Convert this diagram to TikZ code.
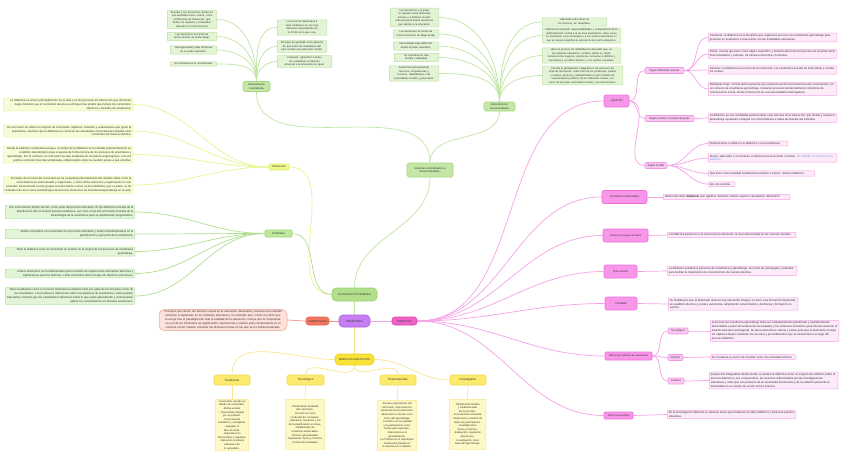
\documentclass[tikz,border=0pt]{standalone}
\usepackage{fontspec}
\setmainfont{Liberation Sans}
\usetikzlibrary{backgrounds}
\hyphenpenalty=10000
\exhyphenpenalty=10000
\definecolor{txt}{HTML}{333333}
\definecolor{gnf}{HTML}{E3F3D6}\definecolor{gnb}{HTML}{BDE3A1}\definecolor{gline}{HTML}{BFE5A3}
\definecolor{gmf}{HTML}{C5E6A6}\definecolor{gmb}{HTML}{A5D882}
\definecolor{cvf}{HTML}{B3DF8C}\definecolor{cvb}{HTML}{97D26F}
\definecolor{dff}{HTML}{EEF98A}\definecolor{dfb}{HTML}{DCEF5E}
\definecolor{dbf}{HTML}{F7FCD6}\definecolor{dbb}{HTML}{E9F5A4}\definecolor{dline}{HTML}{EAF58E}
\definecolor{smf}{HTML}{BEE89A}\definecolor{smb}{HTML}{9ED97A}
\definecolor{sbf}{HTML}{E2F5D7}\definecolor{sbb}{HTML}{B5E3A0}\definecolor{sline}{HTML}{ADDF8E}
\definecolor{vpf}{HTML}{C77DF3}\definecolor{vpb}{HTML}{B060E8}
\definecolor{crf}{HTML}{F3775F}\definecolor{crb}{HTML}{E86048}
\definecolor{ctf}{HTML}{FDE1DB}\definecolor{ctb}{HTML}{F29A8A}
\definecolor{drf}{HTML}{F062C8}\definecolor{drb}{HTML}{E040B0}
\definecolor{pmf}{HTML}{F896EA}\definecolor{pmb}{HTML}{F070D8}
\definecolor{psf}{HTML}{FBC6F2}\definecolor{psb}{HTML}{F399E4}
\definecolor{pbf}{HTML}{FDEBFA}\definecolor{pbb}{HTML}{F6A6EA}\definecolor{pline}{HTML}{F5A3E8}
\definecolor{ymf}{HTML}{F9E23A}\definecolor{ymb}{HTML}{F0D020}
\definecolor{ytf}{HTML}{FBEA6E}\definecolor{ytb}{HTML}{F3DA4C}
\definecolor{ybf}{HTML}{FEF7C6}\definecolor{ybb}{HTML}{F8E58E}\definecolor{yline}{HTML}{F8E68C}
\definecolor{lnk}{HTML}{6A9EF0}
\tikzset{
  tx/.style={text=txt,font=\fontsize{2.85}{3.9}\selectfont,inner xsep=1.5pt,inner ysep=1.2pt,line width=0.5pt,rounded corners=0.6pt},
  gbox/.style={tx,draw=gnb,fill=gnf,text width=#1,align=center,anchor=west,font=\fontsize{2.6}{3.5}\selectfont},
  dbox/.style={tx,draw=dbb,fill=dbf,text width=#1,align=flush right,anchor=west},
  sbox/.style={tx,draw=sbb,fill=sbf,text width=#1,align=flush right,anchor=west},
  pbox/.style={tx,draw=pbb,fill=pbf,text width=#1,align=flush left,anchor=west},
  ybox/.style={tx,draw=ybb,fill=ybf,text width=#1,align=center,anchor=north,minimum height=50pt,font=\fontsize{2.6}{3.6}\selectfont},
  mn/.style={text=txt,font=\fontsize{3}{3.8}\selectfont,inner sep=0pt,line width=0.6pt,align=center},
  cn/.style={mn,draw=gmb,fill=gmf,rounded corners=1.5pt},
  pm/.style={mn,draw=pmb,fill=pmf,rounded corners=2pt},
  ps/.style={mn,draw=psb,fill=psf,rounded corners=1pt,font=\fontsize{2.7}{3.5}\selectfont},
  yt/.style={mn,draw=ytb,fill=ytf,rounded corners=1.5pt,minimum width=36pt,minimum height=10pt},
  gl/.style={draw=gline,line width=0.7pt},
  dl/.style={draw=dline,line width=0.7pt},
  sl/.style={draw=sline,line width=0.7pt},
  pl/.style={draw=pline,line width=0.7pt},
  yl/.style={draw=yline,line width=0.7pt},
  cl/.style={draw=ctb,line width=0.7pt}
}
\begin{document}
\begin{tikzpicture}[x=1pt,y=1pt]
\path[use as bounding box] (0,0) rectangle (848,-453);

% ---------- centre ----------
\node[mn,draw=vpb,fill=vpf,rounded corners=4pt,minimum width=31pt,minimum height=12pt] (did) at (354.5,-321) {DIDÁCTICA};
\node[mn,draw=crb,fill=crf,rounded corners=3pt,minimum width=23pt,minimum height=8pt,font=\fontsize{2.7}{3.5}\selectfont] (cur) at (317.5,-321) {CURRÍCULUM};
\node[tx,draw=ctb,fill=ctf,rounded corners=5pt,text width=125pt,align=center] (curt) at (223,-320) {Concepto que dentro del discurso actual de la educación demuestra y destaca una realidad existente e importante en los sistemas educativos; un concepto que, si bien es cierto que le acoge tras el paradigma de toda la realidad de la educación, incluye que la comprenda en uno de los horizontes de significación, experiencias y valores para comprenderla en el contexto social, cultural, entender las diversas formas en las que se ha institucionalizado.};
\node[mn,draw=drb,fill=drf,rounded corners=3pt,minimum width=25pt,minimum height=8pt,font=\fontsize{2.7}{3.5}\selectfont] (didr) at (404.5,-321) {DIDÁCTICA};
\node[mn,draw=ymb,fill=ymf,rounded corners=4pt,minimum width=39pt,minimum height=11pt,font=\fontsize{2.7}{3.5}\selectfont] (mod) at (354.5,-359.5) {MODELOS DIDÁCTICOS};
\node[mn,draw=cvb,fill=cvf,rounded corners=4pt,minimum width=45pt,minimum height=13pt] (cvd) at (354.5,-294.5) {Currículum VS Didáctica};

% ---------- green upper part ----------
\node[cn,minimum width=46pt,minimum height=14pt,font=\fontsize{2.7}{3.5}\selectfont] (sis) at (430,-170) {Sistemas centralizados vs\\descentralizados.};
\node[cn,minimum width=27pt,minimum height=10pt,font=\fontsize{2.6}{3.4}\selectfont] (adc) at (256.5,-86.5) {Administración\\Centralizada};
\node[cn,minimum width=31pt,minimum height=9pt,font=\fontsize{2.6}{3.4}\selectfont] (add) at (499.5,-106.5) {Administración\\Descentralizada};

\node[gbox=46.5pt] (cl1) at (167,-19.5) {El poder y las decisiones residen en una autoridad única, central, como el Ministerio de Educación, que define los objetivos y contenidos educativos a nivel nacional.};
\node[gbox=46.5pt] (cl2) at (167,-36.5) {Las decisiones se toman de forma vertical, de arriba abajo.};
\node[gbox=43.5pt] (cl3) at (170,-50) {Homogeneidad y baja eficiencia en el poder educativo.};
\node[gbox=43.5pt] (cl4) at (170,-64) {Se centraliza en la normatividad.};
\node[gbox=46.5pt] (cr1) at (277,-27.5) {Los recursos destinados a cada ciudadano no son muy diferentes dependiendo de la CCAA en la que viva.};
\node[gbox=46.5pt] (cr2) at (277,-46.5) {Principio de igualdad como garantía de que todos los ciudadanos del país reciban una educación similar.};
\node[gbox=51.5pt] (cr3) at (277,-61.5) {Propósito: garantizar a todos los ciudadanos el derecho universal a la educación por igual.};

\node[gbox=45.5pt] (dl1) at (390,-17.5) {Las decisiones y el poder se reparten entre diferentes actores y a distintos niveles; más personas toman decisiones que afectan a la educación.};
\node[gbox=42.5pt] (dl2) at (393,-34) {Las decisiones se toman de forma horizontal, de abajo arriba.};
\node[gbox=42.5pt] (dl3) at (393,-46) {Necesidades bajo definición desde el poder educativo.};
\node[gbox=41.5pt] (dl4) at (394,-57.5) {Su normativa es más flexible y adaptada.};
\node[gbox=46.5pt] (dl5) at (389,-73.5) {Autonomía para gestionar recursos, competencias y recursos, adaptándose a las necesidades locales y personales.};
\node[gbox=61.5pt] (dr1) at (542,-22) {Utilización más eficaz de los recursos, sin despilfarro.};
\node[gbox=75.5pt] (dr2) at (542,-35.5) {Además de transmitir responsabilidades y competencias de la Administración central a la de nivel autonómico, otras veces se transfieren a los municipios y a los centros educativos, lo que en esencia significa la autonomía del centro educativo.};
\node[gbox=75.5pt] (dr3) at (542,-55.5) {Abre un proceso de redistribución del poder que, en los sistemas educativos, conduce desde un centro nacional a las regiones, provincias, comarcas o distritos y municipios y, en último término, a los centros escolares.};
\node[gbox=77.5pt] (dr4) at (542,-75.5) {Permite la participación colegiada en los procesos de toma de decisiones, sobre todo de los profesores, padres y madres, alumnos y administradores, pero también de representantes políticos de los diferentes niveles, así como de la propia comunidad vecinal y sus asociaciones.};

% ---------- Diferencias / Similitudes ----------
\node[mn,draw=dfb,fill=dff,rounded corners=1pt,minimum width=20pt,minimum height=6pt,font=\fontsize{2.7}{3.4}\selectfont] (dif) at (279,-167) {Diferencias};
\node[mn,draw=smb,fill=smf,rounded corners=1pt,minimum width=27pt,minimum height=7pt,font=\fontsize{2.7}{3.4}\selectfont] (sim) at (278.5,-233.5) {Similitudes};

\node[dbox=126.5pt] (d1) at (3,-104.5) {La didáctica se enfoca principalmente en el aula y en los procesos de interacción que allí tienen lugar, mientras que el currículum abarca un enfoque más amplio que incluye los contenidos, objetivos y métodos de enseñanza.};
\node[dbox=126.5pt] (d2) at (3,-131) {El currículum se refiere al conjunto de contenidos, objetivos, métodos y evaluaciones que guían la enseñanza, mientras que la didáctica se centra en las estrategias concretas para impartir esos contenidos de manera efectiva.};
\node[dbox=126.5pt] (d3) at (3,-154.5) {Desde la tradición continental europea, el campo de la didáctica se ha situado preferentemente en el ámbito metodológico para ocuparse de forma técnica de los procesos de enseñanza y aprendizaje. Por el contrario, el currículum ha sido empleado en los países anglosajones, con una política curricular más descentralizada, reflexionando sobre la cuestión previa a qué enseñar.};
\node[dbox=126.5pt] (d4) at (3,-185) {El campo de la teoría del currículum se ha ocupado preferentemente del análisis sobre cómo el conocimiento es seleccionado y organizado, y cómo dicha selección y organización no son neutrales, favoreciendo a unos grupos sociales frente a otros; el de la didáctica, por su parte, se ha centrado más en un área metodológica del proceso instructivo de enseñanza/aprendizaje en el aula.};

\node[sbox=126.5pt] (s1) at (5,-212) {Uno está inmerso dentro del otro como parte del proceso educativo. El eje didáctico necesita de la planificación del currículum para la enseñanza, así como el eje del currículum necesita de la metodología de la enseñanza para su planificación programática.};
\node[sbox=126.5pt] (s2) at (5,-234) {Ambos conceptos son esenciales en el proceso educativo y están interrelacionados en la planificación y ejecución de la enseñanza.};
\node[sbox=126.5pt] (s3) at (5,-251.5) {Tanto la didáctica como el currículum se centran en la mejora de los procesos de enseñanza aprendizaje.};
\node[sbox=126.5pt] (s4) at (5,-273.5) {Ambos elementos son fundamentales para el diseño de experiencias educativas afectivas y significativas para los alumnos, están orientados hacia el logro de objetivos educativos.};
\node[sbox=126.5pt] (s5) at (5,-296) {Tanto la didáctica como el currículo fomentan la reflexión tanto por parte de los docentes como de los estudiantes. Los profesores reflexionan sobre sus prácticas de enseñanza y cómo pueden mejorarlas, mientras que los estudiantes reflexionan sobre lo que están aprendiendo y cómo pueden aplicar los conocimientos en diversas situaciones.};

% ---------- pink right part ----------
\node[pm,minimum width=25pt,minimum height=12pt] (que) at (616.5,-101) {¿Qué es?};
\node[pm,minimum width=45pt,minimum height=13pt,font=\fontsize{2.7}{3.5}\selectfont] (proc) at (624.5,-197) {Procedencia etimológica};
\node[pm,minimum width=45pt,minimum height=13pt,font=\fontsize{2.7}{3.5}\selectfont] (cien) at (625.5,-235.5) {Ciencia en la que se basa};
\node[pm,minimum width=33pt,minimum height=13pt,font=\fontsize{2.7}{3.5}\selectfont] (estu) at (620.5,-271.5) {Qué estudia};
\node[pm,minimum width=32pt,minimum height=13pt,font=\fontsize{2.7}{3.5}\selectfont] (fina) at (621,-303.5) {Finalidad};
\node[pm,minimum width=47pt,minimum height=8pt,rounded corners=1pt,font=\fontsize{2.6}{3.4}\selectfont] (mode) at (628.5,-356) {Diferentes modelos de enseñanza};
\node[pm,minimum width=29pt,minimum height=7pt,rounded corners=1pt,font=\fontsize{2.6}{3.4}\selectfont] (inv) at (618.5,-415.5) {Cómo se investiga};

\node[ps,minimum width=39pt,minimum height=6pt] (sda) at (664.5,-70.5) {Según diferentes autores};
\node[ps,minimum width=49pt,minimum height=6pt] (snc) at (669.5,-118.5) {Según nuestro concepto de grupo};
\node[ps,minimum width=22pt,minimum height=6pt] (rae) at (656,-165.5) {Según la RAE};
\node[ps,minimum width=20pt,minimum height=6pt] (tec) at (678,-331) {Tecnológico};
\node[ps,minimum width=15pt,minimum height=6pt] (art) at (675.5,-357.5) {Artístico};
\node[ps,minimum width=16pt,minimum height=6pt] (cul) at (676,-381) {Cultural};

\node[pbox=125.5pt] (a1) at (708,-37.5) {Contreras: la didáctica es la disciplina que explica los procesos de enseñanza-aprendizaje para proponer su realización consecuente con las finalidades educativas.};
\node[pbox=125.5pt] (a2) at (708,-54) {Titone: ciencia que tiene como objeto específico y formal la dirección del proceso de enseñar hacia fines inmediatos y remotos, de eficacia instructiva y formativa.};
\node[pbox=125.5pt] (a3) at (708,-70) {Sánchez: la didáctica es la teoría de la instrucción y la enseñanza escolar de toda índole y a todos los niveles.};
\node[pbox=125.5pt] (a4) at (708,-89) {Rodríguez Rojo: ciencia teórico-práctica que orienta la acción reconstructora del conocimiento, en un contexto de enseñanza-aprendizaje, mediante procesos tendencialmente simétricos de comunicación social, desde el horizonte de una racionalidad emancipadora.};
\node[pbox=125.5pt] (g1) at (708,-118) {La didáctica es una modalidad perteneciente a las ciencias de la educación, que facilita y mejora el aprendizaje ayudando a integrar los conocimientos a todas las facetas del individuo.};
\node[pbox=76.5pt] (r1) at (708,-143.5) {Perteneciente o relativo a la didáctica o a la enseñanza.};
\node[pbox=125.5pt] (r2) at (708,-158) {Propio, adecuado o con buenas condiciones para enseñar o instruir. \textcolor{lnk}{Un método, un profesor muy didáctico.}};
\node[pbox=103.5pt] (r3) at (708,-173.5) {Que tiene como finalidad fundamental enseñar o instruir. Género didáctico.};
\node[pbox=23.5pt] (r4) at (708,-184) {Arte de enseñar.};
\node[pbox=123.5pt] (p1) at (663,-197) {Deriva del verbo \textbf{didáskein} que significa “enseñar, instruir, exponer claramente, demostrar”.};
\node[pbox=125.5pt] (c1) at (667,-235) {La Didáctica pertenece a la ciencia de la educación, la cual está incluida en las ciencias sociales.};
\node[pbox=126.5pt] (e1) at (667,-271) {La didáctica estudia los procesos de enseñanza y aprendizaje, así como las estrategias y métodos para facilitar la transmisión de conocimientos de manera efectiva.};
\node[pbox=126.5pt] (f1) at (668,-304) {Su finalidad es que el alumnado alcance una educación integral, es decir, una formación intelectual, un equilibrio afectivo y social y autonomía, adquiriendo conocimientos, destrezas y formación en valores.};
\node[pbox=125.5pt] (t1) at (710,-331) {el proceso de enseñanza-aprendizaje debe ser cuidadosamente planificado y metódicamente desarrollado a partir del análisis de necesidades y los contextos formativos para intentar alcanzar el modelo educativo pentagonal. Su tarea esencial es valorar y actuar para que el alumnado consiga los objetivos fijados mediante los recursos y procedimientos que se desarrollen a lo largo del proceso didáctico.};
\node[pbox=82.5pt] (ar1) at (710,-357) {Se considera la acción de enseñar como una actividad artística.};
\node[pbox=125.5pt] (cu1) at (709,-380.5) {perspectiva integradora desde donde se analiza la didáctica como un espacio de reflexión sobre el proceso didáctico y sus componentes, las acciones reflexionadas por las investigaciones educativas y otras que son producto de la creatividad del docente y de la reflexión personal se desarrollan en un campo de acción teórico práctico.};
\node[pbox=125.5pt] (i1) at (667,-414.5) {En la investigación didáctica se abarcan áreas que fortalecen el saber didáctico y mejora la práctica educativa.};

% ---------- yellow models ----------
\node[yt] (trad) at (232,-380) {Tradicional};
\node[yt,minimum width=37pt] (tecn) at (305.5,-380) {Tecnológico};
\node[yt] (espo) at (398,-380) {Espontaneísta};
\node[yt] (inve) at (468,-380) {Investigativo};
\node[ybox=30.5pt] (tradt) at (232,-399) {-Currículum cerrado en listado de contenidos.\\-Rutina escolar.\\-Transmisión dirigida por el profesor.\\-Conocimiento académico y disciplinar.\\-Apegado al libro de texto.\\-Reproducción memorística y repetitiva.\\-Valoración mediante exámenes de lo aprendido.};
\node[ybox=36.5pt] (tecnt) at (305,-399) {-Planificación detallada del currículum.\\-Docente es mero conductor de conceptos.\\-Aplicación mecánica y fiel de la planificación en clase.\\-Modificación de conductas observables.\\-Proceso generalizable.\\-Separación Teoría y Práctica.\\-Control de resultados.};
\node[ybox=36.5pt] (espot) at (397,-400) {-Escasa organización del currículum, improvisación.\\-Desarrollo de la autonomía.\\-Motivación e interés como motor del aprendizaje.\\-Contacto con la realidad y la participación como fuente para aprender.\\-Importancia a la generalización.\\-La Práctica es lo importante.\\-Evaluación basada en la observación cotidiana.};
\node[ybox=33.5pt] (invet) at (467.5,-399) {-Planificación flexible y fundamentada del currículum.\\-Conocimiento relevante.\\-Implicación y relación de todos los participantes.\\-Dualidad entre Teoría y Práctica.\\-Evaluación, regulación del proceso.\\-Investigación como base del aprendizaje.};

% ---------- connectors ----------
\begin{scope}[on background layer]
\fill[white] (0,0) rectangle (848,-453);
\draw[gl] (cvd.south) -- (did.north);
\draw[cl] (did.west) -- (cur.east);
\draw[cl] (cur.west) -- (curt.east);
\draw[pl] (did.east) -- (didr.west);
\draw[yl] (did.south) -- (mod.north);

\draw[gl] (cvd.north) to[out=90,in=-90] (sis.south);
\draw[gl] (sis.north) to[out=90,in=-90] (adc.south);
\draw[gl] (sis.north) to[out=90,in=-90] (add.south);
\foreach \n in {cl1,cl2,cl3,cl4} \draw[gl] (adc.north) to[out=90,in=0] (\n.east);
\foreach \n in {cr1,cr2,cr3} \draw[gl] (adc.north) to[out=90,in=180] (\n.west);
\foreach \n in {dl1,dl2,dl3,dl4,dl5} \draw[gl] (add.north) to[out=90,in=0] (\n.east);
\foreach \n in {dr1,dr2,dr3,dr4} \draw[gl] (add.north) to[out=90,in=180] (\n.west);

\draw[dl] (dif.east) to[out=0,in=180] (cvd.west);
\draw[sl] (sim.east) to[out=0,in=180] (cvd.west);
\foreach \n in {d1,d2,d3,d4} \draw[dl] (dif.west) to[out=180,in=0] (\n.east);
\foreach \n in {s1,s2,s3,s4,s5} \draw[sl] (sim.west) to[out=180,in=0] (\n.east);

\foreach \n in {que,proc,cien,estu,fina,mode,inv} \draw[pl] (didr.east) to[out=0,in=180] (\n.west);
\foreach \n in {sda,snc,rae} \draw[pl] (que.east) to[out=0,in=180] (\n.west);
\foreach \n in {a1,a2,a3,a4} \draw[pl] (sda.east) to[out=0,in=180] (\n.west);
\draw[pl] (snc.east) to[out=0,in=180] (g1.west);
\foreach \n in {r1,r2,r3,r4} \draw[pl] (rae.east) to[out=0,in=180] (\n.west);
\draw[pl] (proc.east) -- (p1.west);
\draw[pl] (cien.east) -- (c1.west);
\draw[pl] (estu.east) -- (e1.west);
\draw[pl] (fina.east) -- (f1.west);
\foreach \n in {tec,art,cul} \draw[pl] (mode.east) to[out=0,in=180] (\n.west);
\draw[pl] (tec.east) to[out=0,in=180] (t1.west);
\draw[pl] (art.east) -- (ar1.west);
\draw[pl] (cul.east) to[out=0,in=180] (cu1.west);
\draw[pl] (inv.east) -- (i1.west);

\draw[yl] (mod.west) to[out=180,in=90] (trad.north);
\draw[yl] (mod.south) to[out=-90,in=90] (tecn.north);
\draw[yl] (mod.south) to[out=-90,in=90] (espo.north);
\draw[yl] (mod.east) to[out=0,in=180] (inve.west);
\draw[yl] (trad.south) -- (tradt.north);
\draw[yl] (tecn.south) -- (tecnt.north);
\draw[yl] (espo.south) -- (espot.north);
\draw[yl] (inve.south) -- (invet.north);
\end{scope}
\end{tikzpicture}
\end{document}
